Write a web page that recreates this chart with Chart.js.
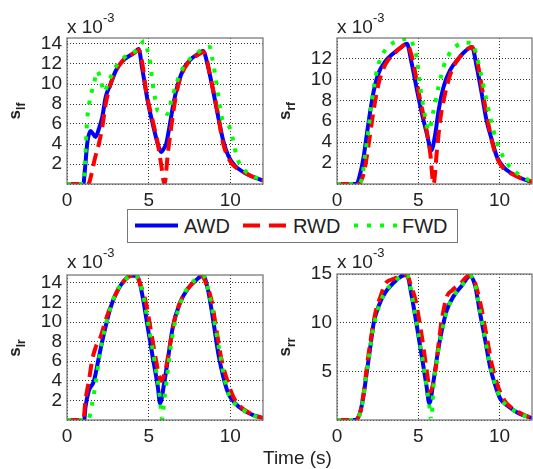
<!DOCTYPE html>
<html>
<head>
<meta charset="utf-8">
<script src="https://cdn.jsdelivr.net/npm/chart.js@4.4.1/dist/chart.umd.min.js"></script>
<style>
  body { margin: 0; background: #fff; width: 533px; height: 469px; overflow: hidden; position: relative;
         font-family: 'Liberation Sans', Arial, sans-serif; color: #222; }
  canvas { position: absolute; left: 0; top: 0; }
  .mult { position: absolute; font-size: 19px; line-height: 19px; white-space: nowrap; }
  .mult sup { font-size: 13px; position: relative; top: -11px; vertical-align: baseline; }
  .ylab { position: absolute; font-weight: bold; font-size: 17px; line-height: 17px; white-space: nowrap;
          transform: translate(-50%, -50%) rotate(-90deg); }
  .ylab sub { font-size: 12px; }
  .xlab { position: absolute; font-size: 19px; line-height: 19px; white-space: nowrap; }
  #legend { position: absolute; left: 127px; top: 209px; }
</style>
</head>
<body>
<canvas id="c-lf" width="533" height="469"></canvas>
<canvas id="c-rf" width="533" height="469"></canvas>
<canvas id="c-lr" width="533" height="469"></canvas>
<canvas id="c-rr" width="533" height="469"></canvas>

<div class="mult" style="left:67px;top:17px">x 10<sup>-3</sup></div>
<div class="mult" style="left:337px;top:17px">x 10<sup>-3</sup></div>
<div class="mult" style="left:67px;top:252px">x 10<sup>-3</sup></div>
<div class="mult" style="left:337px;top:252px">x 10<sup>-3</sup></div>

<div class="ylab" style="left:18px;top:111px">s<sub>lf</sub></div>
<div class="ylab" style="left:288px;top:111px">s<sub>rf</sub></div>
<div class="ylab" style="left:18px;top:348px">s<sub>lr</sub></div>
<div class="ylab" style="left:288px;top:347px">s<sub>rr</sub></div>

<div class="xlab" style="left:263px;top:448px">Time (s)</div>

<svg id="legend" width="331" height="34">
  <rect x="0.5" y="0.5" width="330" height="33" fill="#fff" stroke="#777" stroke-width="1"/>
  <line x1="8" y1="16.5" x2="51" y2="16.5" stroke="#0000ff" stroke-width="4"/>
  <text x="57" y="24" font-family="Liberation Sans, Arial, sans-serif" font-size="20" fill="#222">AWD</text>
  <line x1="116" y1="16.5" x2="160" y2="16.5" stroke="#ff0000" stroke-width="4" stroke-dasharray="17 9"/>
  <text x="166" y="24" font-family="Liberation Sans, Arial, sans-serif" font-size="20" fill="#222">RWD</text>
  <line x1="227" y1="16.5" x2="272" y2="16.5" stroke="#00ff00" stroke-width="4" stroke-dasharray="4 9"/>
  <text x="275" y="24" font-family="Liberation Sans, Arial, sans-serif" font-size="20" fill="#222">FWD</text>
</svg>

<script>
// slip values, x 10^-3 as [time s, slip]
const lfAWD = [[0,0],[1.0,0],[1.1,1.5],[1.25,4.2],[1.44,5.3],[1.6,5.0],[1.75,4.7],[1.95,5.5],[2.16,6.7],[2.37,8.7],[2.67,10],[2.98,11.3],[3.4,12.3],[3.8,12.8],[4.1,13.1],[4.38,13.5],[4.63,11.3],[4.94,8.3],[5.25,6],[5.56,4],[5.76,3.2],[5.95,3.6],[6.07,4],[6.27,5.7],[6.48,7.7],[6.79,10],[7.2,11.7],[7.6,12.5],[8.02,13],[8.33,13.3],[8.64,11.7],[8.95,9.3],[9.26,6.7],[9.57,4.3],[9.88,2.8],[10.3,1.8],[10.8,1.2],[11.4,0.7],[12,0.35]];
const lfRWD = [[0,0],[1.3,0],[1.5,1.0],[1.7,2.5],[1.95,4],[2.16,5.7],[2.37,8],[2.67,10],[2.98,11.3],[3.4,12.3],[3.8,12.8],[4.1,13.1],[4.38,13.4],[4.6,12.2],[4.84,9.3],[5.25,6.3],[5.56,4],[5.76,2],[5.97,0],[6.17,3],[6.38,5.7],[6.69,9],[7.0,10.9],[7.4,12.1],[7.8,12.7],[8.2,13.1],[8.33,13.2],[8.55,12.5],[8.74,11],[9.16,7.7],[9.57,4],[9.98,2.3],[10.3,1.7],[10.8,1.2],[11.4,0.7],[12,0.35]];
const lfFWD = [[0,0],[1.0,0],[1.1,2],[1.23,6.3],[1.44,8.7],[1.65,10],[1.85,11.3],[2.05,10.5],[2.26,9.2],[2.57,10.3],[2.9,11.5],[3.4,12.5],[3.8,13],[4.2,13.3],[4.5,13.9],[4.73,14.3],[4.9,13.5],[5.08,12.3],[5.25,10],[5.4,8.5],[5.56,7.3],[5.86,7.2],[6.17,7.0],[6.38,8.3],[6.69,10],[7.0,11.3],[7.4,12.3],[7.9,13],[8.33,13.5],[8.74,13.7],[8.9,12.5],[9.16,10],[9.47,6.7],[9.77,6.0],[10.0,5.5],[10.15,4.5],[10.4,2.7],[10.8,1.5],[11.4,0.8],[12,0.35]];

const rfAWD = [[0,0],[1.2,0],[1.43,1],[1.64,2.6],[1.84,4.8],[2.05,7],[2.25,8.8],[2.56,10.6],[2.97,11.7],[3.48,12.5],[3.9,13],[4.3,13.4],[4.6,11.5],[4.92,9],[5.23,6.7],[5.53,4.8],[5.8,3.2],[6.05,4.8],[6.25,7],[6.56,9.3],[6.97,10.9],[7.48,12],[7.9,12.7],[8.3,13.1],[8.6,11.2],[8.9,8.7],[9.2,6.1],[9.53,4.2],[9.84,2.6],[10.25,1.6],[10.76,1],[11.4,0.5],[12,0.2]];
const rfRWD = [[0,0],[1.3,0],[1.64,1],[1.95,3.8],[2.25,7],[2.56,9.6],[2.97,11.4],[3.48,12.4],[3.9,13],[4.3,13.4],[4.55,12.5],[4.82,10.6],[5.12,8],[5.43,5.8],[5.74,2.9],[5.94,0],[6.15,3.2],[6.35,6.1],[6.66,8.7],[7.07,10.9],[7.5,12],[7.9,12.7],[8.3,13.1],[8.55,12.3],[8.8,10.3],[9.2,6.7],[9.63,3.5],[10.04,1.9],[10.5,1.2],[11.0,0.8],[11.5,0.4],[12,0.2]];
const rfFWD = [[0,0],[1.3,0],[1.54,0.6],[1.74,2.9],[1.95,5.4],[2.15,8],[2.46,10.9],[2.77,12.3],[3.28,13.3],[3.8,13.7],[4.5,13.9],[4.7,13.2],[4.92,11.9],[5.12,9.3],[5.43,6.4],[5.64,5.1],[5.94,7],[6.25,9.3],[6.56,11.2],[6.86,12.3],[7.27,13.1],[7.9,13.5],[8.3,13.5],[8.55,12.5],[8.8,10.9],[9.2,8],[9.63,5.1],[10.04,3.2],[10.55,1.8],[11.1,1.0],[11.6,0.5],[12,0.3]];

const lrAWD = [[0,0],[1.05,0],[1.13,1.3],[1.34,3],[1.65,4],[1.95,6.4],[2.26,8.8],[2.67,11.5],[3.09,13.2],[3.6,14.4],[3.9,14.76],[4.32,14.6],[4.63,12.6],[4.94,9.5],[5.25,6.4],[5.56,3.4],[5.7,1.7],[5.97,4],[6.23,6.8],[6.48,9.5],[6.9,11.9],[7.4,13.4],[7.92,14.3],[8.33,14.76],[8.64,13.2],[8.95,10.2],[9.26,6.8],[9.57,4.4],[9.88,2.7],[10.3,1.7],[10.8,1],[11.4,0.5],[12,0.2]];
const lrRWD = [[0,0],[1.0,0],[1.13,2],[1.34,4],[1.54,6.1],[1.75,7.4],[2.06,8.5],[2.37,10.2],[2.67,11.6],[3.09,13.2],[3.6,14.4],[4.0,14.76],[4.22,14.76],[4.5,13.8],[4.84,11.9],[5.14,9.1],[5.45,6.1],[5.76,4],[6.07,5.4],[6.28,7.4],[6.58,10.2],[6.9,11.9],[7.4,13.4],[7.92,14.3],[8.25,14.76],[8.5,14],[8.85,12.2],[9.16,9.1],[9.47,6.1],[9.88,3.7],[10.2,2.3],[10.6,1.4],[11.2,0.7],[12,0.2]];
const lrFWD = [[0,0],[1.3,0],[1.54,1.7],[1.75,3.7],[1.95,6.1],[2.16,8.1],[2.5,10.5],[3.0,13],[3.5,14.2],[3.9,14.76],[4.2,14.7],[4.42,14.2],[4.73,12.2],[5.04,9.1],[5.35,6.1],[5.66,2.7],[5.82,0.1],[5.97,2.3],[6.17,5.1],[6.38,7.8],[6.69,10.5],[7.1,12.6],[7.6,13.9],[8.13,14.6],[8.35,14.7],[8.74,12.6],[9.05,9.8],[9.36,6.8],[9.67,4],[9.98,2.3],[10.4,1.5],[10.9,0.9],[11.5,0.4],[12,0.2]];

const rrAWD = [[0,0],[1.1,0],[1.43,0.8],[1.64,2.6],[1.84,5],[2.05,7.5],[2.25,9.9],[2.56,11.7],[2.97,13.1],[3.48,14.1],[4.0,14.8],[4.3,14.9],[4.6,12.7],[4.92,9.6],[5.23,6.4],[5.5,3.6],[5.68,1.7],[5.94,4],[6.15,6.4],[6.45,9.2],[6.76,11.3],[7.17,12.7],[7.68,13.8],[8.2,14.8],[8.5,13.8],[8.8,11],[9.12,8.2],[9.43,5.4],[9.73,3.6],[10.04,2.2],[10.55,1.4],[11.17,0.7],[12,0.2]];
const rrRWD = [[0,0],[1.1,0],[1.43,0.8],[1.64,2.8],[1.84,5.5],[2.05,8],[2.36,11],[2.7,12.8],[2.97,14],[3.5,14.5],[4.0,14.8],[4.3,14.9],[4.55,13.8],[4.82,12.4],[5.23,8.5],[5.53,5],[5.74,2.9],[6.05,5],[6.25,7.8],[6.45,10.3],[6.76,12.7],[7.07,13.3],[7.58,14],[8.1,14.8],[8.4,14.5],[8.65,13.2],[8.91,11.3],[9.22,8.5],[9.53,5.7],[9.94,3.3],[10.35,1.9],[10.8,1.2],[11.4,0.6],[12,0.2]];
const rrFWD = [[0,0],[1.2,0],[1.54,1.5],[1.74,3.8],[1.95,6.3],[2.15,8.7],[2.46,11],[2.9,13],[3.4,14],[3.9,14.7],[4.3,14.9],[4.6,12.9],[4.92,9.8],[5.23,6.6],[5.5,3.6],[5.68,1.5],[5.8,0],[5.94,3.5],[6.15,6.2],[6.45,9],[6.76,11.2],[7.17,12.7],[7.68,13.8],[8.2,14.8],[8.5,13.9],[8.8,11.2],[9.12,8.3],[9.43,5.5],[9.73,3.7],[10.04,2.3],[10.55,1.4],[11.17,0.7],[12,0.2]];

const seriesNames = ['AWD', 'RWD', 'FWD'];
const xMax = 12;
const xStep = 5;

const W = 533, H = 469;
const Y_AXIS_W = 50, X_AXIS_H = 30;

// plot boxes [left, top, right, bottom] in page pixels
const panels = [
  { id: 'c-lf', box: [67, 38, 263, 184], yMax: 14.6, yStep: 2, data: [lfAWD, lfRWD, lfFWD] },
  { id: 'c-rf', box: [337, 38, 532, 184], yMax: 13.95, yStep: 2, data: [rfAWD, rfRWD, rfFWD] },
  { id: 'c-lr', box: [67, 275, 263, 420], yMax: 14.8, yStep: 2, data: [lrAWD, lrRWD, lrFWD] },
  { id: 'c-rr', box: [337, 274, 532, 420], yMax: 15.0, yStep: 5, data: [rrAWD, rrRWD, rrFWD] },
];

const lineStyles = [
  { color: '#0000ff', dash: [], order: 3 },
  { color: '#ff0000', dash: [13, 7], order: 2 },
  { color: '#00ff00', dash: [4, 8], order: 1 },
];

// box around plot area, like matlab axes
const frame = {
  id: 'frame',
  afterDraw(chart) {
    const a = chart.chartArea, ctx = chart.ctx;
    ctx.save();
    ctx.strokeStyle = '#6f6f6f';
    ctx.lineWidth = 1.2;
    ctx.strokeRect(a.left, a.top, a.right - a.left, a.bottom - a.top);
    ctx.restore();
  }
};

Chart.defaults.font.family = "'Liberation Sans', Arial, sans-serif";
Chart.defaults.font.size = 19;
Chart.defaults.color = '#222';

panels.forEach(function (p) {
  const [L, T, R, B] = p.box;
  new Chart(document.getElementById(p.id).getContext('2d'), {
    type: 'line',
    data: {
      datasets: p.data.map((d, i) => ({
        label: seriesNames[i],
        data: d.map(([x, y]) => ({ x, y })),
        borderColor: lineStyles[i].color,
        borderDash: lineStyles[i].dash,
        borderWidth: 4,
        borderCapStyle: 'butt',
        pointRadius: 0,
        cubicInterpolationMode: 'monotone',
        fill: false,
        clip: 0,
        order: lineStyles[i].order,
      })),
    },
    options: {
      responsive: false,
      animation: false,
      events: [],
      layout: { padding: { left: L - Y_AXIS_W, top: T, right: W - R, bottom: H - B - X_AXIS_H } },
      plugins: { legend: { display: false }, tooltip: { enabled: false } },
      scales: {
        x: {
          type: 'linear', min: 0, max: xMax,
          border: { display: false, dash: [1, 2] },
          grid: { color: '#333', lineWidth: 1, drawTicks: false },
          ticks: { stepSize: xStep, includeBounds: false, padding: 5, maxRotation: 0, autoSkip: false },
          afterFit: (s) => { s.height = X_AXIS_H; },
        },
        y: {
          type: 'linear', min: 0, max: p.yMax,
          border: { display: false, dash: [1, 2] },
          grid: { color: '#333', lineWidth: 1, drawTicks: false },
          ticks: {
            stepSize: p.yStep, includeBounds: false, padding: 5, autoSkip: false,
            callback: (v) => (v === 0 ? '' : v),
          },
          afterFit: (s) => { s.width = Y_AXIS_W; },
        },
      },
    },
    plugins: [frame],
  });
});
</script>
</body>
</html>
